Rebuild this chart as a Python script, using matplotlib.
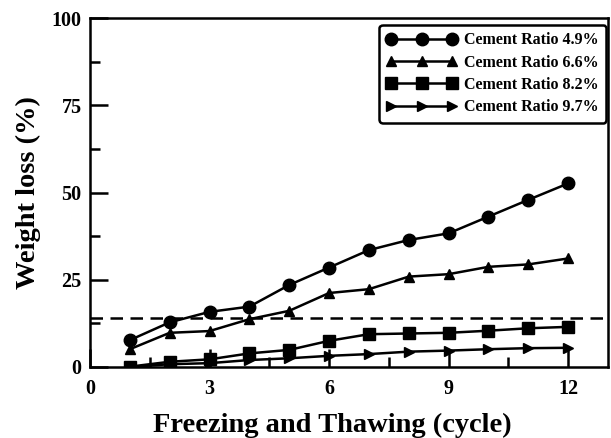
import matplotlib
matplotlib.use("Agg")
import matplotlib.pyplot as plt
from matplotlib.ticker import MultipleLocator

plt.rcParams['font.family'] = ['Liberation Serif', 'DejaVu Serif']
plt.rcParams['font.weight'] = 'bold'

# cycles and weight loss (%) per cement ratio
cycles = [1, 2, 3, 4, 5, 6, 7, 8, 9, 10, 11, 12]
loss_49 = [7.7, 12.8, 15.8, 17.3, 23.5, 28.5, 33.5, 36.4, 38.3, 43.1, 47.9, 52.6]
loss_66 = [5.1, 9.8, 10.3, 13.7, 16.1, 21.2, 22.3, 25.9, 26.6, 28.7, 29.4, 31.1]
loss_82 = [0.1, 1.5, 2.2, 3.9, 4.9, 7.5, 9.4, 9.6, 9.8, 10.4, 11.1, 11.5]
loss_97 = [0.0, 0.8, 1.1, 2.0, 2.5, 3.2, 3.7, 4.4, 4.7, 5.1, 5.4, 5.5]
labels = ['Cement Ratio 4.9%', 'Cement Ratio 6.6%', 'Cement Ratio 8.2%', 'Cement Ratio 9.7%']
limit = 14

fig = plt.figure(figsize=(6.11, 4.38), dpi=100)
ax = fig.add_axes([90 / 611, 1 - 367 / 438, 518 / 611, 349 / 438])

ax.plot(cycles, loss_49, '-o', color='black', lw=1.8, ms=9, label=labels[0], zorder=4)
ax.plot(cycles, loss_66, '-^', color='black', lw=1.8, ms=7, label=labels[1], zorder=4)
ax.plot(cycles, loss_82, '-s', color='black', lw=1.8, ms=9, label=labels[2], zorder=4)
ax.plot(cycles, loss_97, '->', color='black', lw=1.8, ms=7, label=labels[3], zorder=4)
ax.axhline(limit, color='black', lw=1.8, ls=(0, (5, 3)), zorder=3)

ax.set_xlim(0, 13)
ax.set_ylim(0, 100)
ax.xaxis.set_major_locator(MultipleLocator(3))
ax.xaxis.set_minor_locator(MultipleLocator(1.5))
ax.yaxis.set_major_locator(MultipleLocator(25))
ax.yaxis.set_minor_locator(MultipleLocator(12.5))
ax.tick_params(which='both', direction='in', width=1.8, labelsize=14.5, top=False, right=False)
ax.tick_params(which='major', length=13, pad=6)
ax.tick_params(which='minor', length=7)
ax.tick_params(axis='x', pad=9)
for s in ax.spines.values():
    s.set_linewidth(1.8)

ax.set_xlabel('Freezing and Thawing (cycle)', fontsize=20.5, fontweight='bold')
ax.xaxis.set_label_coords(0.467, -0.13)
ax.set_ylabel('Weight loss (%)', fontsize=20.5, fontweight='bold', labelpad=8)

leg = ax.legend(loc='upper right', bbox_to_anchor=(0.996, 0.98), borderaxespad=0,
                numpoints=3, handlelength=4.4, fontsize=11.5, frameon=True,
                fancybox=True, edgecolor='black', framealpha=1,
                labelspacing=0.4, handletextpad=0.45, borderpad=0.45)
leg.get_frame().set_linewidth(1.8)

fig.savefig('out.png', dpi=100)
